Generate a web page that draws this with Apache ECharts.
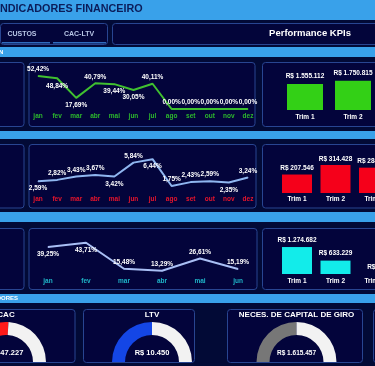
<!DOCTYPE html>
<html>
<head>
<meta charset="utf-8">
<script src="https://cdn.jsdelivr.net/npm/echarts@6.0.0/dist/echarts.min.js"></script>
<style>
html,body{margin:0;padding:0;background:#020a36;}
#c{width:375px;height:366px;}
</style>
</head>
<body>
<div id="c"></div>
<script>
// ---- data ----
const months = ['jan','fev','mar','abr','mai','jun','jul','ago','set','out','nov','dez'];
const monthsHalf = ['jan','fev','mar','abr','mai','jun'];
const margemValues = [52.42,48.84,17.69,40.79,39.44,30.05,40.11,0,0,0,0,0];
const custoPctValues = [2.59,2.82,3.43,3.67,3.42,5.84,6.44,1.75,2.43,2.59,2.35,3.24];
const retornoValues = [39.25,43.71,15.48,13.29,26.61,15.19];
const quarters = ['Trim 1','Trim 2','Trim 3','Trim 4'];
const receitaTrim = [1555112,1750815];
const custoTrim = [207546,314428,284512];
const lucroTrim = [1274682,633229,0];
const gaugeTitles = ['CAC','LTV','NECES. DE CAPITAL DE GIRO'];
const gaugeValues = [47227,10450,1615457];
const gaugeShare = [52,50,50];

// ---- styling ----
const FONT = 'Liberation Sans, Arial, sans-serif';
const BAND = '#39a1ea';
const PANEL_FILL = '#03043b';
const PANEL_STROKE = '#284591';
const pos1 = ['top','bottom','bottom','top','bottom','bottom','top','top','top','top','top','top'];
const pos2 = ['bottom','top','top','top','bottom','top','bottom','top','top','top','bottom','top'];
const pos3 = ['bottom','bottom','top','top','top','top'];

const pct = p => p.value.toFixed(2).replace('.', ',') + '%';
const money = v => 'R$ ' + String(Math.round(v)).replace(/\B(?=(\d{3})+(?!\d))/g, '.');

function rect(x,y,w,h,fill,stroke,r){
  return {type:'rect', z:0, silent:true, shape:{x:x,y:y,width:w,height:h,r:r||0},
    style:{fill:fill, stroke:stroke||null, lineWidth:stroke?1:0}};
}
function panel(x,y,w,h){ return rect(x,y,w,h,PANEL_FILL,PANEL_STROKE,3); }
function txt(x,y,s,size,color,align){
  return {type:'text', z:100, silent:true, x:x, y:y,
    style:{text:s, fill:color, font:'bold '+size+'px '+FONT, textAlign:align||'left', textVerticalAlign:'middle'}};
}

const graphics = [
  rect(0,0,375,20,BAND),
  txt(-3,9.5,'INDICADORES FINANCEIRO',10.8,'#0b1d5a'),
  rect(0.5,23.5,107,21,'#03053a',PANEL_STROKE,3),
  rect(2,42,48,1.5,'#2f6bbd'),
  rect(53,42,53,1.5,'#2f6bbd'),
  txt(22,34,'CUSTOS',7,'#b8c6e6','center'),
  txt(79,34,'CAC-LTV',7,'#b8c6e6','center'),
  rect(112.5,23.5,270,21,'#03053a',PANEL_STROKE,3),
  txt(310,33.5,'Performance KPIs',9.5,'#ffffff','center'),
  rect(0,47,375,10,BAND),
  txt(-1,52,'N',6,'#ffffff'),
  panel(-4,62.5,28,64), panel(29,62.5,226,64), panel(262.5,62.5,120,64),
  rect(0,131,375,8,BAND),
  panel(-4,144.5,28,63.5), panel(29,144.5,227,63.5), panel(262.5,144.5,120,63.5),
  rect(0,212,375,10,BAND),
  panel(-4,228.5,28,61), panel(29,228.5,228,61), panel(262.5,228.5,120,61),
  rect(0,294,375,9,BAND),
  txt(18,298.5,'INDICADORES',6,'#ffffff','right'),
  panel(-4,309.5,79,53), panel(83.5,309.5,111,53), panel(227.5,309.5,135,53), panel(373.5,309.5,40,53)
];

const gaugeCenters = [[6,362],[152,362],[296.5,362]];
const gaugeColors = ['#ff1a1a','#1446e6','#777777'];
const gaugeValueSize = [7.5,7.5,6.5];
gaugeTitles.forEach((t,i)=>{
  graphics.push(txt(gaugeCenters[i][0],315,t,8,'#ffffff','center'));
  graphics.push(txt(gaugeCenters[i][0],353,money(gaugeValues[i]),gaugeValueSize[i],'#ffffff','center'));
});

const lineLabel = {show:true, color:'#ffffff', fontSize:6.5, fontWeight:'bold', fontFamily:FONT, formatter:pct, distance:2.5};
function lineData(vals,pos){
  return vals.map((v,i)=>({value:v, label:{position:pos[i], distance: pos[i]==='bottom'?3.5:2.5}}));
}
function xCat(data,gridIndex,color,margin){
  return {type:'category', gridIndex:gridIndex, data:data, boundaryGap:true,
    axisLine:{show:false}, axisTick:{show:false}, splitLine:{show:false},
    axisLabel:{interval:0, color:color, fontSize:6.5, fontWeight:'bold', fontFamily:FONT, margin:margin, lineHeight:7}};
}
function yVal(gridIndex,min,max){
  return {type:'value', gridIndex:gridIndex, min:min, max:max, show:false, splitLine:{show:false}};
}
function lineSeries(idx,vals,pos,color){
  return {type:'line', xAxisIndex:idx, yAxisIndex:idx, data:lineData(vals,pos),
    symbol:'circle', symbolSize:1, itemStyle:{color:color}, lineStyle:{color:color,width:2},
    label:lineLabel, silent:true, z:5};
}
function barSeries(idx,vals,color,barW,dist){
  return {type:'bar', xAxisIndex:idx, yAxisIndex:idx, data:vals, barWidth:barW,
    itemStyle:{color:color}, silent:true, z:5,
    label:{show:true, position:'top', distance:dist, color:'#ffffff', fontSize:6.5, fontWeight:'bold', fontFamily:FONT,
      formatter:p=>money(p.value)}};
}

const pieSeries = gaugeShare.map((s,i)=>({
  type:'pie', center:gaugeCenters[i], radius:[27,40], startAngle:180, clockwise:true,
  silent:true, label:{show:false}, labelLine:{show:false}, z:5,
  emphasis:{disabled:true},
  data:[
    {value:s, itemStyle:{color:gaugeColors[i]}},
    {value:100-s, itemStyle:{color:'#f2f2f2'}},
    {value:100, itemStyle:{color:'rgba(0,0,0,0)'}}
  ]
}));

function g(o){ o.outerBoundsMode='none'; o.containLabel=false; return o; }

const option = {
  animation:false,
  backgroundColor:'#020a36',
  graphic:{elements:graphics},
  grid:[
    g({left:28.5, top:71.2, width:229, height:37.8}),
    g({left:28.5, top:156, width:229, height:40}),
    g({left:29, top:237, width:228, height:46}),
    g({left:281, top:80, width:192, height:30}),
    g({left:277.75, top:164.5, width:154, height:28.5}),
    g({left:277.75, top:246.5, width:154, height:27.5})
  ],
  xAxis:[
    xCat(months,0,'#2db82d',3.5),
    xCat(months,1,'#e8142c',0),
    xCat(monthsHalf,2,'#1fb5c8',-5),
    xCat(quarters,3,'#ffffff',3.5),
    xCat(quarters,4,'#ffffff',2.5),
    xCat(quarters,5,'#ffffff',3.5)
  ],
  yAxis:[
    yVal(0,0,60), yVal(1,0,7), yVal(2,0,50),
    yVal(3,0,1800000), yVal(4,0,320000), yVal(5,0,1300000)
  ],
  series:[
    lineSeries(0,margemValues,pos1,'#40c030'),
    lineSeries(1,custoPctValues,pos2,'#8fb6f0'),
    lineSeries(2,retornoValues,pos3,'#a9bff5'),
    barSeries(3,receitaTrim,'#33d016',36,4.5),
    barSeries(4,custoTrim,'#f5001a',30,2.5),
    barSeries(5,lucroTrim,'#12ecea',30,3.5)
  ].concat(pieSeries)
};

const chart = echarts.init(document.getElementById('c'), null, {renderer:'canvas', width:375, height:366});
chart.setOption(option);
</script>
</body>
</html>
